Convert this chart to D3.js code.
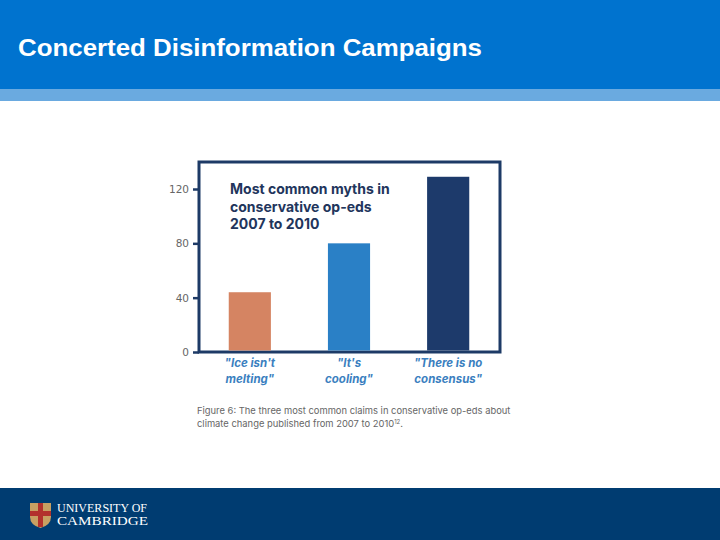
<!DOCTYPE html>
<html><head><meta charset="utf-8">
<script src="https://cdn.jsdelivr.net/npm/d3@7"></script>
<style>html,body{margin:0;padding:0;background:#fff;}svg{display:block;}</style>
</head><body>
<script>
const categories = [["\"Ice isn't", "melting\""], ["\"It's", "cooling\""], ["\"There is no", "consensus\""]];
const values = [44, 80, 129];
const barColors = ["#d58462", "#2a80c6", "#1d3a6b"];
const yTicks = [0, 40, 80, 120];
const slideTitle = "Concerted Disinformation Campaigns";
const chartTitle = ["Most common myths in", "conservative op-eds", "2007 to 2010"];
const caption = ["Figure 6: The three most common claims in conservative op-eds about", "climate change published from 2007 to 2010"];

const W = 720, H = 540;
const svg = d3.select("body").append("svg").attr("width", W).attr("height", H);

// header
svg.append("rect").attr("x",0).attr("y",0).attr("width",W).attr("height",89).attr("fill","#0073cf");
svg.append("rect").attr("x",0).attr("y",89).attr("width",W).attr("height",12).attr("fill","#6aaae0");
svg.append("text").attr("x",18).attr("y",56).text(slideTitle)
  .attr("font-family","Liberation Sans, Arial, sans-serif").attr("font-weight","bold")
  .attr("font-size",23).attr("fill","#fff")
  .attr("textLength",464).attr("lengthAdjust","spacingAndGlyphs");

// footer
svg.append("rect").attr("x",0).attr("y",488).attr("width",W).attr("height",52).attr("fill","#003c71");
const shield = svg.append("g").attr("transform","translate(30,503)");
shield.append("path").attr("d","M0,0 H21 V14 Q21,22 10.5,25 Q0,22 0,14 Z").attr("fill","#c8a062");
shield.append("rect").attr("x",8).attr("y",0).attr("width",5).attr("height",24).attr("fill","#b3312d");
shield.append("rect").attr("x",0).attr("y",8).attr("width",21).attr("height",5).attr("fill","#b3312d");
svg.append("text").attr("x",57).attr("y",512).text("UNIVERSITY OF")
  .attr("font-family","Liberation Serif, serif").attr("font-size",11.5).attr("fill","#fff")
  .attr("textLength",90).attr("lengthAdjust","spacingAndGlyphs");
svg.append("text").attr("x",57).attr("y",525).text("CAMBRIDGE")
  .attr("font-family","Liberation Serif, serif").attr("font-size",12).attr("fill","#fff")
  .attr("textLength",91).attr("lengthAdjust","spacingAndGlyphs");

// chart
const pLeft = 198, pRight = 500, pTop = 162, pBase = 352;
const y = d3.scaleLinear().domain([0, 120]).range([pBase, 189]);
const x = d3.scaleBand().domain(d3.range(values.length)).range([pLeft, pRight]).paddingInner(0.575).paddingOuter(0.31);

const navy = "#1d3a66";
svg.append("rect").attr("x",pLeft+1).attr("y",pTop).attr("width",pRight-pLeft-1).attr("height",pBase-pTop)
  .attr("fill","none").attr("stroke",navy).attr("stroke-width",3);

const yAxis = svg.append("g").attr("transform",`translate(${pLeft+1},0)`)
  .call(d3.axisLeft(y).tickValues(yTicks).tickSize(6).tickPadding(4));
yAxis.select(".domain").remove();
yAxis.selectAll("line").attr("stroke",navy).attr("stroke-width",2.5);
yAxis.selectAll("text").attr("fill","#666").attr("font-size",10.5)
  .attr("font-family","DejaVu Sans, sans-serif").attr("font-weight","normal");

svg.selectAll("rect.bar").data(values).enter().append("rect").attr("class","bar")
  .attr("x",(d,i)=>x(i)).attr("width",x.bandwidth())
  .attr("y",d=>y(d)).attr("height",d=>pBase-1.5-y(d))
  .attr("fill",(d,i)=>barColors[i]);

// chart title
const ct = svg.append("text").attr("font-family","Inter, Lato, sans-serif").attr("font-weight","bold")
  .attr("font-size",14).attr("fill","#22355c");
chartTitle.forEach((t,i)=>ct.append("tspan").attr("x",230).attr("y",194+i*17.5).text(t));

// category labels
categories.forEach((c,i)=>{
  const t = svg.append("text").attr("text-anchor","middle").attr("font-family","Inter, Lato, sans-serif")
    .attr("font-weight","bold").attr("font-style","italic").attr("font-size",11.5).attr("fill","#3b7fbf");
  c.forEach((line,j)=>t.append("tspan").attr("x",x(i)+x.bandwidth()/2).attr("y",367+j*15.5).text(line));
});

// caption
const cap = svg.append("text").attr("font-family","Inter, Lato, sans-serif").attr("font-size",9.4)
  .attr("fill","#666");
cap.append("tspan").attr("x",197).attr("y",414).text(caption[0]);
cap.append("tspan").attr("x",197).attr("y",427).text(caption[1]);
cap.append("tspan").attr("dy",-3).attr("font-size",6).text("12");
cap.append("tspan").attr("dy",3).text(".");
</script>
</body></html>
